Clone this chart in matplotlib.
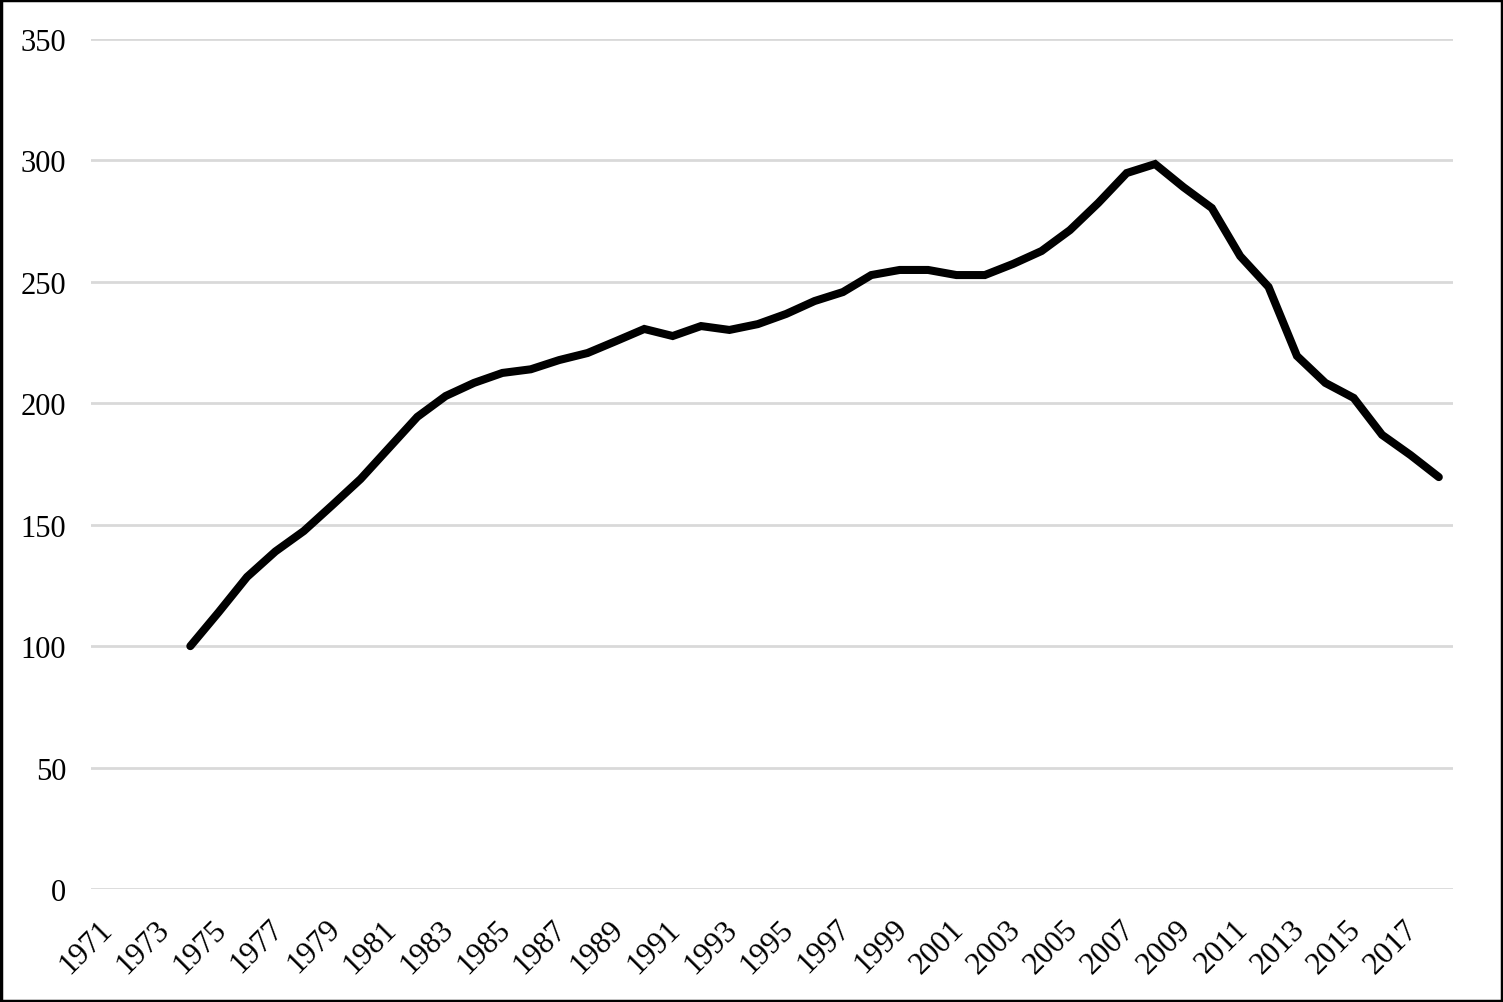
import matplotlib
matplotlib.use("Agg")
import matplotlib.pyplot as plt
from matplotlib.patches import Rectangle
from matplotlib.transforms import ScaledTranslation
import numpy as np

years = list(range(1971, 2019))
series_years = list(range(1974, 2019))
values = [100, 114, 128.5, 139, 147.4, 158, 168.8, 181.6, 194.4, 203,
          208.4, 212.5, 214, 217.8, 220.7, 225.6, 230.6, 227.7, 231.8, 230.2,
          232.6, 236.8, 242.1, 245.8, 252.8, 254.9, 254.9, 252.8, 252.8, 257.4,
          262.7, 271.3, 282.5, 294.8, 298.5, 289, 280.4, 260.6, 247.9, 219.5,
          208.4, 202.2, 187, 178.7, 169.6]
yticks = [0, 50, 100, 150, 200, 250, 300, 350]

plt.rcParams['font.family'] = ['Liberation Serif', 'DejaVu Serif']

fig = plt.figure(figsize=(15.03, 10.03), dpi=100)
ax = fig.add_axes([91/1503, 1 - 890/1003, (1453-91)/1503, (890-40)/1003])

xpos = [years.index(y) for y in series_years]
ax.plot(xpos, values, color='black', lw=5.8, solid_joinstyle='miter', solid_capstyle='round', zorder=3)

ax.set_xlim(-0.5, len(years) - 0.5)
ax.set_ylim(0, 350)
ax.set_yticks(yticks)
ax.set_yticklabels([str(v) for v in yticks], fontsize=22)
ax.yaxis.grid(True, color='#d9d9d9', lw=2)
ax.set_axisbelow(True)

tick_idx = list(range(0, len(years), 2))
ax.set_xticks(tick_idx)
ax.set_xticklabels([])
offset = ScaledTranslation(-7/100, -25/100, fig.dpi_scale_trans)
for i in tick_idx:
    ax.text(i, 0, str(years[i]), transform=ax.get_xaxis_transform() + offset,
            fontsize=22.5, rotation=45, ha='right', va='top', rotation_mode='anchor',
            clip_on=False)
ax.tick_params(axis='both', length=0)
ax.tick_params(axis='y', pad=18)
for s in ax.spines.values():
    s.set_visible(False)

fig.patches.append(Rectangle((0.0005, 0.0005), 0.999, 0.999, transform=fig.transFigure,
                             fill=False, edgecolor='black', lw=2.5))

fig.savefig('out.png', dpi=100, facecolor='white')
